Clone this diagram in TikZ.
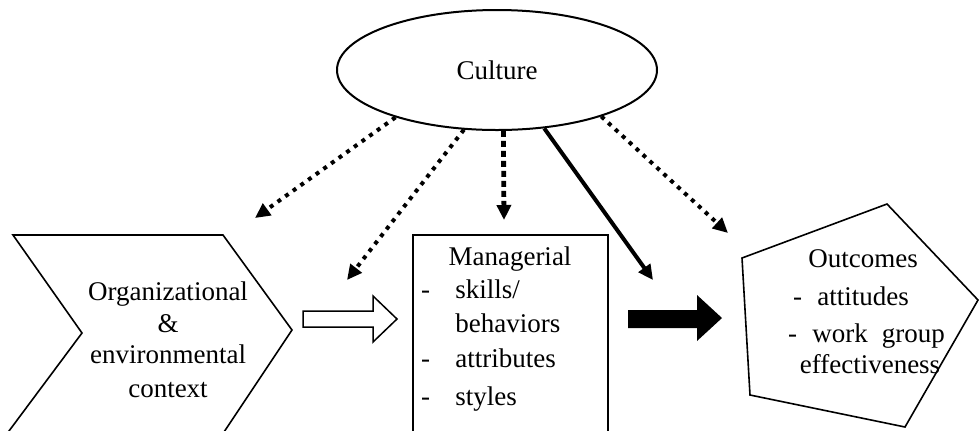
\documentclass[tikz,border=0pt]{standalone}
\usepackage{fontspec}
\setmainfont{Liberation Serif}
\usetikzlibrary{arrows.meta,shapes.geometric}
\begin{document}
\begin{tikzpicture}[x=0.5pt,y=-0.5pt,
  txt/.style={font=\fontsize{13.5}{16}\selectfont, inner sep=0pt},
  outline/.style={draw=black, line width=0.8pt, line join=miter},
  tipstyle/.style={-{Triangle[length=7.5pt,width=7pt]}},
  dotarrow/.style={tipstyle, line width=2pt, dash pattern=on 2pt off 2.7pt},
  dasharrow/.style={tipstyle, line width=2.4pt, dash pattern=on 3pt off 2pt},
  solidarrow/.style={tipstyle, line width=2pt}]
\useasboundingbox (0,0) rectangle (979,430);
\clip (0,0) rectangle (979,430);

% Culture ellipse
\node[ellipse, draw, line width=1pt, minimum width=160pt, minimum height=60pt,
      inner sep=0pt, txt] (culture) at (497,70) {Culture};

% Chevron
\draw[outline] (13,235) -- (223,235) -- (292,330) -- (222,435) -- (6,435) -- (82,333) -- cycle;
\node[txt, anchor=base] (org1) at (168,300) {Organizational};
\node[txt, anchor=base] (org2) at (168,332) {\&};
\node[txt, anchor=base] (org3) at (168,363) {environmental};
\node[txt, anchor=base] (org4) at (168,397) {context};

% Managerial box
\draw[outline, line width=1pt] (413,235) rectangle (608,445);
\node[txt, anchor=base] (man1) at (510,265) {Managerial};
\node[txt, anchor=base west] (man2) at (455,298) {\llap{-\hspace{12.7pt}}skills/};
\node[txt, anchor=base west] (man3) at (455,332) {behaviors};
\node[txt, anchor=base west] (man4) at (455,367) {\llap{-\hspace{12.7pt}}attributes};
\node[txt, anchor=base west] (man5) at (455,405) {\llap{-\hspace{12.7pt}}styles};

% Outcomes pentagon
\draw[outline] (742,258) -- (887,204) -- (978,300) -- (905,427) -- (750,395) -- cycle;
\node[txt, anchor=base] (out1) at (863,267) {Outcomes};
\node[txt, anchor=base west] (out2) at (817,305) {\llap{-\hspace{7.7pt}}attitudes};
\node[txt, anchor=base west] (out3) at (812,342) {\llap{-\hspace{7.7pt}}work\hspace{7pt}group};
\node[txt, anchor=base] (out4) at (870,373) {effectiveness};

% Block arrows
\draw[line width=0.75pt, line join=miter] (303,311) -- (373,311) -- (373,296) -- (397,319)
  -- (373,342) -- (373,327) -- (303,327) -- cycle;
\fill[black] (628,310) -- (697,310) -- (697,295) -- (722,318) -- (697,341) -- (697,328)
  -- (628,328) -- cycle;

% Culture arrows
\coordinate (t1) at (255,218);
\coordinate (t2) at (347,280);
\coordinate (t3) at (504,220);
\coordinate (t4) at (653,280);
\coordinate (t5) at (728,233);
\draw[dotarrow] (culture.-155.5) -- (t1);
\draw[dotarrow] (culture.-119.4) -- (t2);
\draw[dasharrow] (culture.-84) -- (t3);
\draw[solidarrow] (culture.-51.2) -- (t4);
\draw[dotarrow] (culture.-24.95) -- (t5);
\end{tikzpicture}
\end{document}
